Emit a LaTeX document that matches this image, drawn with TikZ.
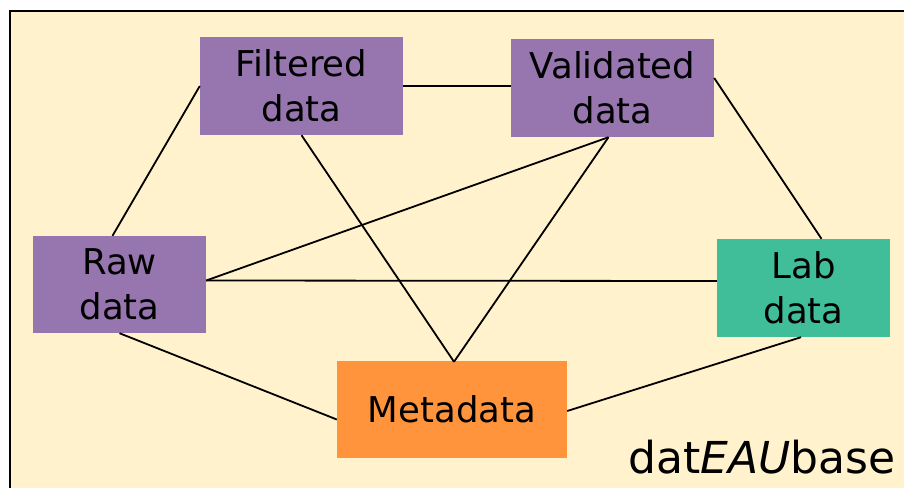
\documentclass[tikz,border=0pt]{standalone}
\usepackage{fontspec}
\setmainfont{DejaVu Sans}
\usetikzlibrary{calc}
\definecolor{bgyellow}{HTML}{FFF2CC}
\definecolor{boxpurple}{HTML}{9775AF}
\definecolor{boxgreen}{HTML}{40BD99}
\definecolor{boxorange}{HTML}{FF943C}
\begin{document}
\begin{tikzpicture}[x=1pt,y=-1pt,
  databox/.style={rectangle, inner sep=0pt, align=center,
    font=\fontsize{35.5}{45}\selectfont, text=black},
  link/.style={draw=black, line width=1.8pt}]
\useasboundingbox (0,0) rectangle (904,487);
\fill[white] (0,0) rectangle (904,487);
\fill[bgyellow] (10,11) rectangle (910,495);
\draw[black, line width=2.2pt] (10,495) -- (10,11) -- (910,11);

\node[databox, fill=boxpurple, minimum width=203pt, minimum height=98pt] (filtered) at (301.5,86) {Filtered\\data};
\node[databox, fill=boxpurple, minimum width=203pt, minimum height=98pt] (validated) at (612.5,88) {Validated\\data};
\node[databox, fill=boxpurple, minimum width=173pt, minimum height=97pt] (raw) at (119.5,284.5) {Raw\\data};
\node[databox, fill=boxgreen, minimum width=173pt, minimum height=98pt] (lab) at (803.5,288) {Lab\\data};
\node[databox, fill=boxorange, minimum width=230pt, minimum height=97pt] (meta) at (452,409.5) {Metadata};
\node[anchor=base east, inner sep=0pt, font=\fontsize{44}{50}\selectfont] (brand) at (896,473) {dat\textit{EAU}base};

\draw[link] ($(raw.north)+(-7,0)$) -- (filtered.west);
\draw[link] (filtered.east) -- ($(validated.west)+(0,-2)$);
\draw[link] ($(validated.east)+(0,-10)$) -- ($(lab.north)+(18,0)$);
\draw[link] ($(raw.east)+(0,-4)$) -- ($(lab.west)+(0,-7)$);
\draw[link] ($(raw.east)+(0,-4)$) -- ($(validated.south)+(-4,0)$);
\draw[link] (filtered.south) -- ($(meta.north)+(2,1)$);
\draw[link] ($(validated.south)+(-4,0)$) -- ($(meta.north)+(2,1)$);
\draw[link] (raw.south) -- ($(meta.west)+(0,10)$);
\draw[link] ($(meta.east)+(0,1.5)$) -- ($(lab.south)+(-2.5,0)$);
\end{tikzpicture}
\end{document}
